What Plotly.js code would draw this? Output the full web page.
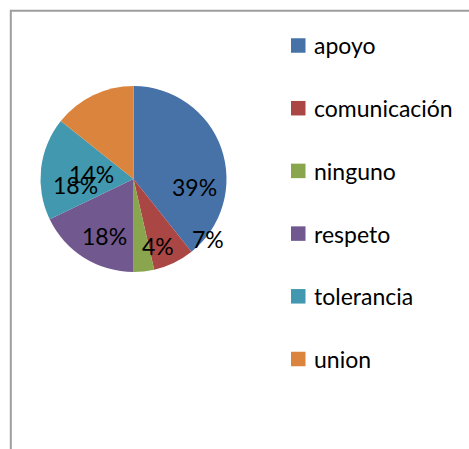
<!DOCTYPE html>
<html>
<head>
<meta charset="utf-8">
<script src="https://cdn.plot.ly/plotly-3.0.1.min.js"></script>
<style>html,body{margin:0;padding:0;background:#fff;}#chart{width:469px;height:449px;}</style>
</head>
<body>
<div id="chart"></div>
<script>
// Data
const labels = ['apoyo', 'comunicación', 'ninguno', 'respeto', 'tolerancia', 'union'];
const counts = [11, 2, 1, 5, 5, 4];
const colors = ['#4672A8', '#AA4644', '#89A54E', '#71588F', '#4198AF', '#DB843D'];

// Label placement (angle in degrees clockwise from top, radius fraction)
const labelAngle = [97, 129, 160, 207, 264, 277];
const labelRadius = [0.666, 1.024, 0.772, 0.69, 0.632, 0.455];

const W = 469, H = 449;
const cx = 133.5, cy = 179, R = 93;
const total = counts.reduce((a, b) => a + b, 0);
const pct = counts.map(c => Math.round(c / total * 100) + '%');

const px = v => v / W;
const py = v => 1 - v / H;

const annotations = [];
const shapes = [];

// pie data labels
counts.forEach((c, i) => {
  const a = labelAngle[i] * Math.PI / 180;
  const r = R * labelRadius[i];
  annotations.push({
    xref: 'paper', yref: 'paper',
    x: px(cx + r * Math.sin(a)), y: py(cy - r * Math.cos(a)),
    xanchor: 'center', yanchor: 'middle',
    text: pct[i], showarrow: false,
    font: {family: 'Lato, sans-serif', size: 23, color: '#000'}
  });
});

// legend
const legX = 291, legY0 = 45.5, legStep = 62.7, sq = 14.5;
labels.forEach((l, i) => {
  const y = legY0 + i * legStep;
  shapes.push({
    type: 'rect', xref: 'paper', yref: 'paper',
    x0: px(legX), x1: px(legX + sq), y0: py(y - sq / 2), y1: py(y + sq / 2),
    fillcolor: colors[i], line: {width: 0}
  });
  annotations.push({
    xref: 'paper', yref: 'paper',
    x: px(legX + sq + 6), y: py(y),
    xanchor: 'left', yanchor: 'middle',
    text: l, showarrow: false,
    font: {family: 'Lato, sans-serif', size: 23, color: '#000'}
  });
});

// frame
shapes.push({
  type: 'rect', xref: 'paper', yref: 'paper',
  x0: px(10.8), x1: 1.05, y0: -0.05, y1: py(10.8),
  line: {color: '#9e9e9e', width: 2}, fillcolor: 'rgba(0,0,0,0)'
});

const trace = {
  type: 'pie',
  labels: labels,
  values: counts,
  marker: {colors: colors, line: {width: 0}},
  sort: false,
  direction: 'clockwise',
  rotation: 0,
  textinfo: 'none',
  hoverinfo: 'label+percent',
  domain: {x: [px(cx - R), px(cx + R)], y: [py(cy + R), py(cy - R)]},
  showlegend: false
};

Plotly.newPlot('chart', [trace], {
  width: W, height: H,
  margin: {l: 0, r: 0, t: 0, b: 0},
  paper_bgcolor: '#fff',
  showlegend: false,
  shapes: shapes,
  annotations: annotations
}, {displayModeBar: false, staticPlot: true});
</script>
</body>
</html>
